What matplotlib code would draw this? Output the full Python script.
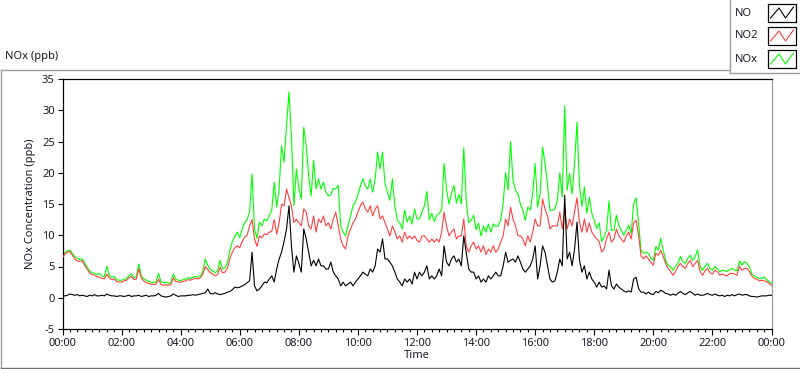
import numpy as np
import matplotlib
matplotlib.use("Agg")
import matplotlib.pyplot as plt
from matplotlib.ticker import MultipleLocator, FuncFormatter
from matplotlib.lines import Line2D
from matplotlib.transforms import Affine2D

plt.rcParams['font.family'] = ['Noto Sans', 'DejaVu Sans']
plt.rcParams['axes.unicode_minus'] = False

# 5-minute samples, 00:00 .. 24:00
no = [
    0.3,0.3,0.4,0.6,0.5,0.4,0.5,0.3,0.4,0.3,0.2,0.4,
    0.3,0.5,0.3,0.3,0.4,0.3,0.6,0.4,0.3,0.3,0.2,0.3,
    0.3,0.2,0.3,0.4,0.2,0.3,0.3,0.4,0.2,0.3,0.4,0.2,
    0.3,0.3,0.4,0.7,0.3,0.2,0.1,0.2,0.3,0.6,0.4,0.2,
    0.3,0.3,0.3,0.4,0.4,0.5,0.4,0.5,0.6,0.7,0.8,1.4,
    0.7,0.6,0.8,0.6,0.5,0.6,0.7,0.9,1.0,1.3,1.7,1.6,
    1.7,1.9,2.1,2.4,2.7,7.3,1.9,1.1,1.4,1.9,2.5,2.4,
    3.0,3.5,2.5,4.6,6.2,7.3,9.0,11.0,14.7,8.3,4.1,6.7,
    5.5,4.1,11.0,9.4,7.3,5.1,6.0,5.1,6.2,5.1,5.1,4.6,
    4.6,5.7,4.1,3.5,3.0,1.9,2.5,1.9,2.2,2.5,1.9,2.5,
    3.0,3.5,4.1,3.8,3.5,4.6,4.1,5.1,7.8,7.3,9.4,6.2,
    6.2,5.7,5.1,4.1,3.0,2.5,1.9,3.0,2.5,3.0,2.2,4.1,
    3.0,4.1,3.5,4.1,5.1,3.0,3.5,3.0,3.5,4.6,3.5,8.3,
    5.7,5.1,6.2,6.7,5.7,6.2,5.1,9.9,7.3,4.6,4.1,4.1,
    3.0,3.5,2.5,3.0,2.5,3.5,3.0,3.5,4.1,3.5,3.5,5.1,
    7.3,5.7,6.0,6.2,5.7,6.7,5.7,4.6,4.1,4.6,5.1,6.2,
    8.3,3.0,5.1,8.3,7.3,5.1,3.0,2.5,2.7,4.1,6.2,5.1,
    16.4,6.2,7.3,5.1,7.8,12.1,6.0,4.1,5.1,3.0,4.1,3.0,
    2.5,1.7,2.5,1.7,1.9,1.4,4.4,1.9,1.4,2.2,1.7,1.4,
    1.1,0.9,1.1,0.9,3.0,3.3,1.5,0.9,0.9,0.6,0.9,0.6,
    0.5,1.0,0.8,1.2,1.0,0.7,0.6,0.4,0.6,0.4,0.7,1.0,
    0.7,0.5,0.8,1.0,0.7,0.4,0.6,0.4,0.4,0.5,0.7,0.5,
    0.4,0.6,0.4,0.3,0.4,0.2,0.4,0.3,0.5,0.3,0.5,0.6,
    0.4,0.5,0.5,0.3,0.2,0.2,0.1,0.2,0.3,0.3,0.3,0.4,
    0.4,
]

no2 = [
    6.4,7.0,7.3,7.4,6.8,6.2,5.9,5.8,5.9,5.2,4.6,4.0,
    3.7,3.6,3.4,3.3,3.1,3.0,3.8,3.2,2.9,3.0,2.6,2.5,
    2.5,2.7,2.8,3.2,3.4,2.9,3.0,4.6,3.2,2.7,2.4,2.3,
    2.2,2.1,2.2,3.0,2.1,2.0,2.1,2.0,2.1,3.2,2.6,2.5,
    2.5,2.6,2.7,2.9,2.8,3.0,3.1,3.0,3.2,3.8,5.0,4.5,
    4.0,3.8,3.5,3.7,4.9,4.0,4.1,4.7,6.3,7.3,8.0,8.3,
    8.0,9.0,9.7,10.0,11.5,12.5,9.4,8.2,9.9,9.6,10.2,10.1,
    10.5,10.6,12.5,10.2,12.0,15.0,14.7,17.4,16.0,14.7,12.0,12.6,
    12.0,11.5,14.2,13.7,11.5,11.0,13.1,10.5,12.6,12.0,13.1,11.5,
    12.0,11.0,12.6,13.7,11.5,9.4,8.3,7.8,9.9,11.0,12.0,12.6,
    13.7,14.7,15.3,14.2,13.7,14.7,13.1,14.2,14.7,12.6,13.1,12.0,
    11.0,9.9,11.5,10.5,9.4,9.9,8.9,10.5,9.4,9.9,9.4,9.9,
    9.2,8.9,9.9,9.9,9.4,8.9,9.4,8.9,9.4,8.9,10.5,13.7,
    11.5,9.9,10.5,11.0,9.4,9.9,9.9,12.6,8.3,7.3,8.3,8.9,
    7.8,8.3,7.3,8.3,6.9,7.8,7.3,8.3,7.3,7.8,8.9,9.9,
    12.6,11.5,14.5,12.6,11.5,9.9,9.9,9.4,8.3,9.9,8.9,10.5,
    12.6,11.5,11.5,15.8,14.2,13.1,11.0,11.5,11.5,11.5,13.7,11.0,
    14.2,11.0,12.6,11.5,13.7,16.0,12.0,10.5,12.6,10.5,12.0,10.5,
    9.9,9.4,9.0,7.3,7.8,9.4,10.5,8.9,9.4,11.0,9.9,9.4,
    8.9,9.9,10.5,9.4,12.0,12.4,10.0,6.7,6.2,6.7,6.2,5.7,
    5.2,7.1,6.8,7.6,6.6,5.5,4.7,4.2,3.6,4.2,5.0,5.5,
    5.0,4.7,5.5,6.0,5.0,5.5,6.0,4.2,3.6,4.3,4.7,4.0,
    3.8,4.4,4.2,3.6,3.8,3.6,3.5,3.9,3.9,3.8,3.6,5.0,
    4.4,4.7,4.7,4.2,3.5,3.1,3.0,2.7,2.8,2.7,2.6,2.3,
    2.0,
]

nox = [
    6.6,7.2,7.5,7.6,7.1,6.6,6.3,6.1,6.2,5.6,4.9,4.3,
    4.0,3.9,3.7,3.9,3.5,3.4,5.0,3.6,3.3,3.4,2.9,2.8,
    2.8,2.9,3.1,3.5,3.8,3.2,3.4,5.4,3.5,3.0,2.8,2.6,
    2.5,2.4,2.6,3.9,2.6,2.4,2.5,2.3,2.4,3.8,3.0,2.8,
    2.7,2.9,3.0,3.2,3.1,3.3,3.4,3.3,3.5,4.2,6.2,5.2,
    4.5,4.3,4.0,4.3,6.0,4.6,4.8,5.6,7.6,9.0,9.8,10.5,
    9.6,11.0,12.0,12.5,13.7,19.8,11.0,9.5,12.1,11.5,12.6,12.3,
    13.1,14.0,18.5,14.5,17.5,24.3,21.7,27.5,32.9,25.9,14.7,20.6,
    17.5,15.8,27.3,24.3,19.5,16.3,22.0,17.4,19.0,17.4,18.5,16.9,
    16.3,16.5,17.5,17.4,18.0,11.5,10.5,9.9,11.5,13.1,14.7,15.3,
    16.5,17.9,19.0,17.9,17.4,19.0,16.9,19.0,23.3,20.6,23.3,18.2,
    16.9,15.6,19.0,14.7,12.4,12.0,11.0,14.0,12.1,13.1,11.8,14.2,
    12.6,12.6,13.7,14.7,17.0,12.5,13.5,12.2,13.2,13.5,14.0,21.5,
    17.4,15.0,16.7,18.0,15.1,16.5,15.0,24.0,15.6,12.0,12.4,13.2,
    10.9,11.9,9.9,11.5,10.5,11.8,10.5,11.8,11.4,11.5,12.4,15.2,
    20.0,17.2,25.0,18.8,17.2,16.6,15.0,14.0,12.4,14.5,14.0,16.7,
    21.5,14.5,16.6,24.1,21.5,18.2,14.0,14.0,14.2,15.6,20.0,16.1,
    30.7,17.2,19.9,16.6,21.5,28.1,18.0,14.6,17.7,13.5,16.1,13.5,
    12.4,11.1,12.0,9.0,9.7,10.8,15.5,10.8,10.8,13.2,11.6,10.8,
    10.0,10.8,11.6,10.3,15.0,16.0,12.0,7.6,7.1,7.3,7.1,6.3,
    6.0,8.2,7.6,9.5,7.6,6.0,5.2,5.0,4.4,5.0,5.5,6.6,
    5.8,5.5,6.3,6.8,6.0,6.6,7.6,5.0,4.4,5.0,5.5,4.7,
    4.4,5.0,4.7,4.2,4.4,4.3,4.2,4.5,4.7,4.4,4.3,5.9,
    5.2,5.8,5.5,5.0,3.8,3.5,3.3,3.1,3.1,3.3,2.9,2.6,
    2.3,
]

series_names = ["NO", "NO2", "NOx"]
series_colors = ["#000000", "#ff4040", "#00ff00"]
sample_minutes = 5
hours = np.arange(len(no)) * sample_minutes / 60.0

W, H = 800, 369
fig = plt.figure(figsize=(W / 100, H / 100), dpi=100, facecolor="white")

# pixel transform (origin top-left)
pix = Affine2D().scale(1 / W, -1 / H).translate(0, 1) + fig.transFigure

L, R, T, B = 62.5, 771.5, 79.0, 329.0
ax = fig.add_axes([L / W, 1 - B / H, (R - L) / W, (B - T) / H])
ax.set_facecolor("white")

lw = 0.8
ax.plot(hours, nox, color=series_colors[2], lw=lw, zorder=2)
ax.plot(hours, no2, color=series_colors[1], lw=lw, zorder=3)
ax.plot(hours, no, color=series_colors[0], lw=lw, zorder=4)

ax.set_xlim(0, 24)
ax.set_ylim(-5, 35)

ax.xaxis.set_major_locator(MultipleLocator(2))
ax.xaxis.set_minor_locator(MultipleLocator(0.25))
ax.xaxis.set_major_formatter(FuncFormatter(lambda v, p: "%02d:00" % (int(round(v)) % 24)))
ax.yaxis.set_major_locator(MultipleLocator(5))

tc = "#1a1a2a"
ax.tick_params(axis="x", which="major", direction="out", length=4.5, width=0.8, pad=2,
               labelsize=8, colors="#000000", labelcolor=tc)
ax.tick_params(axis="x", which="minor", direction="out", length=2.5, width=0.8, colors="#000000")
ax.tick_params(axis="y", which="major", direction="out", length=3.6, width=0.8, pad=2,
               labelsize=8, colors="#000000", labelcolor=tc)

for s in ["top", "left", "bottom"]:
    ax.spines[s].set_color("#000000")
    ax.spines[s].set_linewidth(0.9)
ax.spines["right"].set_color("#9a9a9a")
ax.spines["right"].set_linewidth(0.9)

ax.set_xlabel("Time", fontsize=8, color=tc, labelpad=1)
ax.set_ylabel("NOx Concentration (ppb)", fontsize=8, color=tc, labelpad=4)

# title
fig.text(5 / W, 1 - 57 / H, "NOx (ppb)", fontsize=8, color=tc, ha="left", va="center")

# outer frame
fc = "#a0a0a0"
fig.add_artist(Line2D([0.5, 729], [69.5, 69.5], transform=pix, color=fc, lw=1))
fig.add_artist(Line2D([0.5, 0.5], [69.5, 368.5], transform=pix, color=fc, lw=1))
fig.add_artist(Line2D([0.5, 800], [368.0, 368.0], transform=pix, color="#707070", lw=1))

# legend box
fig.add_artist(Line2D([729.5, 729.5], [0, 72.5], transform=pix, color=fc, lw=1))
fig.add_artist(Line2D([729.5, 800], [72.5, 72.5], transform=pix, color=fc, lw=1))

for i, (name, col) in enumerate(zip(series_names, series_colors)):
    yc = 13 + i * 23
    fig.text(735 / W, 1 - yc / H, name, fontsize=8, color=tc, ha="left", va="center")
    x0, x1 = 767.5, 795.5
    y0, y1 = yc - 9, yc + 9
    fig.add_artist(Line2D([x0, x1, x1, x0, x0], [y0, y0, y1, y1, y0], transform=pix,
                          color="#000000", lw=0.9))
    zx = [x0 + 3, x0 + 11.5, x0 + 18, x0 + 26]
    zy = [y1 - 4, y0 + 4, y1 - 4, y0 + 3]
    fig.add_artist(Line2D(zx, zy, transform=pix, color=col, lw=0.8))

fig.savefig("out.png", dpi=100, facecolor="white")
